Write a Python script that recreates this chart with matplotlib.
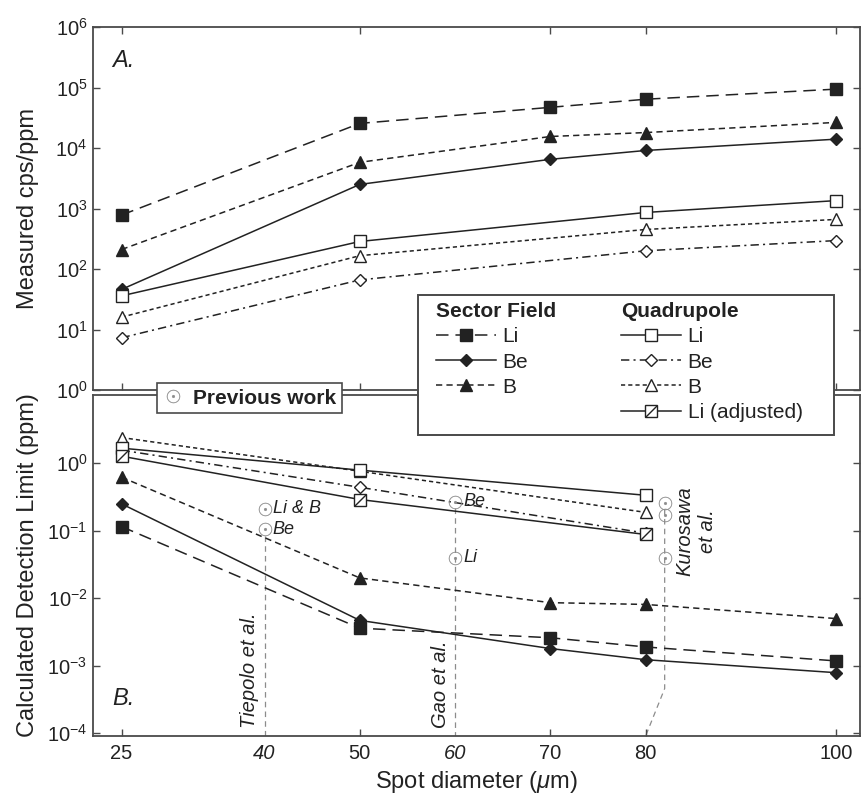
import matplotlib
matplotlib.use("Agg")
import matplotlib.pyplot as plt
import numpy as np
from matplotlib.legend_handler import HandlerTuple
from matplotlib.patches import Rectangle
from matplotlib.path import Path
from matplotlib.ticker import NullLocator

plt.rcParams["font.family"] = ["Liberation Sans", "DejaVu Sans"]
plt.rcParams["mathtext.fontset"] = "custom"
plt.rcParams["mathtext.rm"] = "Liberation Sans"
plt.rcParams["mathtext.it"] = "Liberation Sans:italic"
plt.rcParams["mathtext.bf"] = "Liberation Sans:bold"
plt.rcParams["lines.scale_dashes"] = False

INK = "#222222"
FRAME = "#4a4a4a"
GREY = "#8c8c8c"

# spot diameters (um)
spots_sf = [25, 50, 70, 80, 100]
spots_q_top = [25, 50, 80, 100]
spots_q_bot = [25, 50, 80]

# A. measured sensitivity (cps/ppm)
sens_sf_li = [780, 25500, 47000, 64000, 94000]
sens_sf_be = [46, 2500, 6500, 9100, 14000]
sens_sf_b = [210, 5800, 15500, 18000, 26500]
sens_q_li = [36, 285, 860, 1350]
sens_q_be = [7.3, 66, 200, 295]
sens_q_b = [16, 166, 450, 660]

# B. calculated detection limits (ppm)
dl_sf_li = [0.115, 0.0036, 0.0026, 0.0019, 0.00118]
dl_sf_be = [0.25, 0.0047, 0.0018, 0.00123, 0.00079]
dl_sf_b = [0.62, 0.020, 0.0086, 0.0081, 0.0050]
dl_q_li = [1.67, 0.79, 0.335]
dl_q_be = [1.56, 0.44, 0.092]
dl_q_b = [2.4, 0.76, 0.187]
dl_q_li_adj = [1.27, 0.29, 0.088]

# previous work (spot size, detection limit, element)
prev_x = [40, 40, 60, 60, 82, 82, 82]
prev_dl = [0.21, 0.105, 0.27, 0.040, 0.26, 0.17, 0.040]
prev_tags = ["Li & B", "Be", "Be", "Li", "", "", ""]
tiepolo_x, gao_x, kurosawa_x = 40, 60, 82
kurosawa_foot_x, kurosawa_bend = 80, 4.6e-4

LONG = (0, (9, 5))
SHORT = (0, (4.5, 3))
FINE = (0, (3, 2.2))
DASHDOT = (0, (6, 3, 1.5, 3))
SLASH = Path([(-0.5, -0.5), (0.5, 0.5)], [Path.MOVETO, Path.LINETO])

filled = dict(color=INK, lw=1.1, mec=INK, mfc=INK, mew=1.0)
hollow = dict(color=INK, lw=1.1, mec=INK, mfc="white", mew=1.0)


def draw_sector(ax, li, be, b):
    h_be, = ax.plot(spots_sf, be, ls="-", marker="D", ms=6.3, **filled)
    h_b, = ax.plot(spots_sf, b, ls=SHORT, marker="^", ms=8.5, **filled)
    h_li, = ax.plot(spots_sf, li, ls=LONG, marker="s", ms=8.5, **filled)
    return h_li, h_be, h_b


def draw_quad(ax, x, li, be, b):
    h_be, = ax.plot(x, be, ls=DASHDOT, marker="D", ms=6.3, **hollow)
    h_b, = ax.plot(x, b, ls=FINE, marker="^", ms=8.5, **hollow)
    h_li, = ax.plot(x, li, ls="-", marker="s", ms=8.5, **hollow)
    return h_li, h_be, h_b


fig = plt.figure(figsize=(8.62, 7.95), dpi=100)
ax_top = fig.add_axes([93 / 862, 1 - 390 / 795, 767 / 862, 363 / 795])
ax_bot = fig.add_axes([93 / 862, 1 - 736 / 795, 767 / 862, 341 / 795])

for ax in (ax_top, ax_bot):
    ax.set_yscale("log")
    ax.set_xlim(22, 102.5)
    ax.yaxis.set_minor_locator(NullLocator())
    ax.xaxis.set_minor_locator(NullLocator())
    ax.tick_params(which="major", direction="in", length=5, width=1.0,
                   color=FRAME, labelsize=14.5, labelcolor=INK,
                   left=True, right=True, pad=4)
    for sp in ax.spines.values():
        sp.set_color(FRAME)
        sp.set_linewidth(1.3)

# --- A. sensitivity
h_sf = draw_sector(ax_top, sens_sf_li, sens_sf_be, sens_sf_b)
h_q = draw_quad(ax_top, spots_q_top, sens_q_li, sens_q_be, sens_q_b)
ax_top.set_ylim(1, 1e6)
ax_top.set_yticks(10.0 ** np.arange(0, 7))
ax_top.yaxis.set_minor_locator(NullLocator())
ax_top.set_xticks([25, 50, 70, 80, 100])
ax_top.tick_params(axis="x", top=True, bottom=True, labelbottom=False)
ax_top.set_ylabel("Measured cps/ppm", fontsize=17, color=INK)
ax_top.yaxis.set_label_coords(-0.071, 0.5)
ax_top.text(0.025, 0.909, "A.", transform=ax_top.transAxes, fontsize=17,
            style="italic", color=INK, va="center")

# --- B. detection limits
draw_sector(ax_bot, dl_sf_li, dl_sf_be, dl_sf_b)
draw_quad(ax_bot, spots_q_bot, dl_q_li, dl_q_be, dl_q_b)
h_adj, = ax_bot.plot(spots_q_bot, dl_q_li_adj, ls="-", marker="s", ms=8.5, **hollow)
h_adj_slash, = ax_bot.plot(spots_q_bot, dl_q_li_adj, ls="none", marker=SLASH,
                           ms=8.5, mec=INK, mfc="none", mew=1.0)

ylo = 10 ** -4.04
ax_bot.set_ylim(ylo, 10 ** 1.01)
ax_bot.set_yticks(10.0 ** np.arange(-4, 1))
ax_bot.yaxis.set_minor_locator(NullLocator())
xt = [25, 40, 50, 60, 70, 80, 100]
ax_bot.set_xticks(xt)
ax_bot.set_xticklabels([str(v) for v in xt])
ax_bot.tick_params(axis="x", top=False, bottom=True, pad=6)
for tick, v in zip(ax_bot.xaxis.get_major_ticks(), xt):
    if v in (40, 60):
        tick.tick1line.set_visible(False)
        tick.label1.set_fontstyle("italic")
ax_bot.set_ylabel("Calculated Detection Limit (ppm)", fontsize=17, color=INK)
ax_bot.yaxis.set_label_coords(-0.071, 0.5)
ax_bot.set_xlabel(r"Spot diameter ($\mu$m)", fontsize=17, color=INK)
ax_bot.text(0.025, 0.111, "B.", transform=ax_bot.transAxes, fontsize=17,
            style="italic", color=INK, va="center")

# previous work: guide lines, points and tags
guide = dict(ls=(0, (4, 3)), color=GREY, lw=0.9, zorder=1)
tiepolo_top = min(y for x, y in zip(prev_x, prev_dl) if x == tiepolo_x)
gao_top = max(y for x, y in zip(prev_x, prev_dl) if x == gao_x)
kuro_top = max(y for x, y in zip(prev_x, prev_dl) if x == kurosawa_x)
ax_bot.plot([tiepolo_x, tiepolo_x], [tiepolo_top * 0.8, ylo], **guide)
ax_bot.plot([gao_x, gao_x], [gao_top * 0.8, ylo], **guide)
ax_bot.plot([kurosawa_x, kurosawa_x, kurosawa_foot_x],
            [kuro_top * 0.8, kurosawa_bend, ylo], **guide)

h_prev, = ax_bot.plot(prev_x, prev_dl, ls="none", marker=r"$\odot$", ms=9.5,
                      color=GREY, mec=GREY, mew=0.2)
for x, y, tag in zip(prev_x, prev_dl, prev_tags):
    if tag:
        ax_bot.annotate(tag, (x, y), xytext=(6, 0), textcoords="offset points",
                        ha="left", va="center", fontsize=13, style="italic",
                        color=INK)

ref_txt = dict(textcoords="offset points", rotation=90, fontsize=14.5,
               style="italic", color=INK)
ax_bot.annotate("Tiepolo et al.", (tiepolo_x, ylo), xytext=(-4, 6),
                ha="right", va="bottom", **ref_txt)
ax_bot.annotate("Gao et al.", (gao_x, ylo), xytext=(-4, 6),
                ha="right", va="bottom", **ref_txt)
ax_bot.annotate("Kurosawa\net al.", (kurosawa_x, kuro_top), xytext=(8, 12),
                ha="left", va="top", multialignment="center", **ref_txt)

# legends
box = Rectangle((418 / 862, 1 - 435 / 795), 416 / 862, 140 / 795,
                transform=fig.transFigure, fc="white", ec=FRAME, lw=1.4,
                zorder=4)
fig.add_artist(box)

leg_kw = dict(loc="upper left", frameon=False, alignment="left",
              handlelength=2.9, handletextpad=0.3, labelspacing=0.3,
              borderpad=0, borderaxespad=0, prop={"size": 15},
              title_fontproperties={"weight": "bold", "size": 15},
              labelcolor=INK)
leg_sf = fig.legend(handles=list(h_sf), labels=["Li", "Be", "B"],
                    title="Sector Field",
                    bbox_to_anchor=(436 / 862, 1 - 302 / 795), **leg_kw)
leg_q = fig.legend(handles=list(h_q) + [(h_adj, h_adj_slash)],
                   labels=["Li", "Be", "B", "Li (adjusted)"],
                   title="Quadrupole",
                   handler_map={tuple: HandlerTuple(ndivide=1)},
                   bbox_to_anchor=(621 / 862, 1 - 302 / 795), **leg_kw)
for leg in (leg_sf, leg_q):
    leg.get_title().set_color(INK)

leg_prev = fig.legend(handles=[h_prev], labels=["Previous work"], loc="center",
                      bbox_to_anchor=(249.5 / 862, 1 - 398 / 795),
                      frameon=True, fancybox=False, edgecolor=FRAME,
                      framealpha=1, handlelength=1.0, handletextpad=0.45,
                      borderpad=0.28, borderaxespad=0,
                      prop={"size": 15, "weight": "bold"}, labelcolor=INK)
leg_prev.get_frame().set_linewidth(1.2)

fig.savefig("out.png", dpi=100)
